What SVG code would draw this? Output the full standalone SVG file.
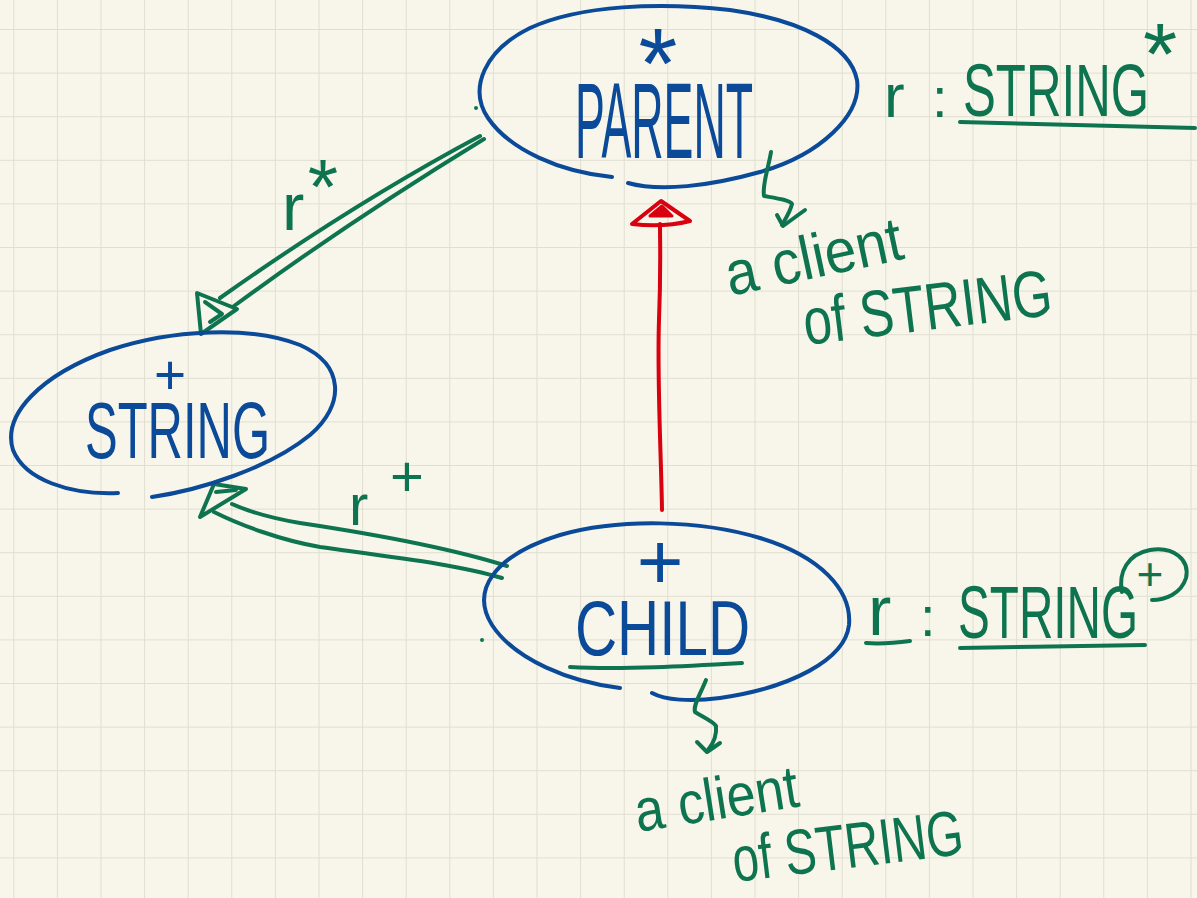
<svg xmlns="http://www.w3.org/2000/svg" width="1197" height="898" viewBox="0 0 1197 898">
  <defs>
    <pattern id="grid" x="13.3" y="29" width="43.6" height="43.6" patternUnits="userSpaceOnUse">
      <path d="M0,0 V43.6 M0,0 H43.6" fill="none" stroke="#dfded0" stroke-width="2"/>
    </pattern>
    <style>
      .ink { fill: none; stroke-width: 4; stroke-linecap: round; stroke-linejoin: round; }
      .blue { stroke: #0b4a98; }
      .green { stroke: #0e7450; }
      .red { stroke: #d9000f; }
      .txt { font-family: "Liberation Sans", Arial, sans-serif; }
      .tb { fill: #0b4a98; }
      .tg { fill: #0e7450; }
    </style>
  </defs>

  <!-- paper -->
  <rect width="1197" height="898" fill="#f8f6ea"/>
  <rect width="1197" height="898" fill="url(#grid)"/>

  <!-- connectors -->
  <g id="connectors">
    <!-- PARENT -> STRING, double shaft with open head -->
    <g id="edge-parent-string">
      <path class="ink green" d="M480,136 C420,168 330,220 220,298"/>
      <path class="ink green" d="M484,139 C430,172 340,228 234,306"/>
      <path class="ink green" d="M197,293 L237,309 L201,334 Z"/>
      <path class="ink green" d="M205,302 L222,314 L210,322"/>
    </g>
    <!-- CHILD -> STRING, double shaft with open head -->
    <g id="edge-child-string">
      <path class="ink green" d="M507,566 C450,548 380,535 300,523 C270,518 250,512 232,504"/>
      <path class="ink green" d="M502,578 C460,565 400,558 320,547 C280,540 240,525 214,512"/>
      <path class="ink green" d="M200,517 L214,484 L246,489 Z"/>
      <path class="ink green" d="M216,492 L236,490"/>
    </g>
    <!-- CHILD -> PARENT inheritance -->
    <g id="edge-child-parent">
      <path class="ink red" d="M662,510 C661,450 657,380 659,320 C661,270 660,245 660,224"/>
      <path class="ink red" d="M632,224 L661,201 L690,221 C670,226 650,226 632,224 Z"/>
      <path d="M650,216 L662,206 L672,216 Z" fill="#d9000f" stroke="#d9000f" stroke-width="3" stroke-linejoin="round"/>
    </g>
  </g>

  <!-- PARENT class -->
  <g id="node-parent">
    <path class="ink blue" d="M612,177 C560,172 510,150 488,118 C468,88 485,50 530,28 C580,5 660,2 730,10 C800,20 850,45 857,80 C862,115 820,155 760,172 C710,186 660,192 628,183"/>
    <circle cx="476" cy="108" r="2" fill="#0e7450"/>
    <text class="txt tb" x="658" y="98" font-size="100" text-anchor="middle">*</text>
    <text class="txt tb" x="575" y="158" font-size="108" textLength="178" lengthAdjust="spacingAndGlyphs">PARENT</text>
  </g>

  <!-- PARENT feature r : STRING* -->
  <g id="parent-feature">
    <text class="txt tg" x="884" y="117" font-size="62">r</text>
    <text class="txt tg" x="932" y="117" font-size="56">:</text>
    <text class="txt tg" x="963" y="116" font-size="74" textLength="186" lengthAdjust="spacingAndGlyphs">STRING</text>
    <text class="txt tg" x="1160" y="84" font-size="88" text-anchor="middle">*</text>
    <path class="ink green" d="M960,122 C1040,124 1120,126 1195,128"/>
  </g>

  <!-- PARENT note -->
  <g id="note-parent">
    <path class="ink green" d="M771,152 C768,170 762,185 764,196 C775,198 790,200 792,204 C790,212 786,218 782,225"/>
    <path class="ink green" d="M777,215 L783,226 L805,210"/>
    <text class="txt tg" transform="translate(730,296) rotate(-12)" font-size="62" textLength="180" lengthAdjust="spacingAndGlyphs">a client</text>
    <text class="txt tg" transform="translate(806,345) rotate(-7)" font-size="66" textLength="250" lengthAdjust="spacingAndGlyphs">of STRING</text>
  </g>

  <!-- STRING class -->
  <g id="node-string">
    <path class="ink blue" d="M118,493 C70,495 25,480 13,450 C2,415 40,375 110,350 C170,330 250,325 300,345 C345,365 345,405 310,435 C270,468 200,490 152,497"/>
    <text class="txt tb" x="170" y="394" font-size="55" text-anchor="middle">+</text>
    <text class="txt tb" x="85" y="458" font-size="80" textLength="185" lengthAdjust="spacingAndGlyphs">STRING</text>
  </g>

  <!-- edge labels -->
  <g id="labels">
    <text class="txt tg" x="282" y="230" font-size="67">r</text>
    <text class="txt tg" x="323" y="214" font-size="78" text-anchor="middle">*</text>
    <text class="txt tg" x="349" y="525" font-size="58">r</text>
    <text class="txt tg" x="407" y="496" font-size="58" text-anchor="middle">+</text>
  </g>

  <!-- CHILD class -->
  <g id="node-child">
    <path class="ink blue" d="M620,688 C570,682 515,660 492,625 C470,590 495,555 560,535 C620,518 700,520 760,538 C820,556 852,590 849,625 C845,660 790,688 720,698 C690,702 665,700 652,693"/>
    <circle cx="482" cy="640" r="2" fill="#0e7450"/>
    <text class="txt tb" x="660" y="589" font-size="80" text-anchor="middle">+</text>
    <text class="txt tb" x="575" y="655" font-size="78" textLength="175" lengthAdjust="spacingAndGlyphs">CHILD</text>
    <path class="ink green" d="M570,667 C620,670 690,666 742,663"/>
  </g>

  <!-- CHILD feature r : STRING(+) -->
  <g id="child-feature">
    <text class="txt tg" x="868" y="635" font-size="70">r</text>
    <path class="ink green" d="M866,643 C880,644 895,643 910,641"/>
    <text class="txt tg" x="920" y="636" font-size="56">:</text>
    <text class="txt tg" x="958" y="638" font-size="75" textLength="180" lengthAdjust="spacingAndGlyphs">STRING</text>
    <path class="ink green" d="M960,648 C1020,647 1090,646 1145,645"/>
    <text class="txt tg" x="1150" y="590" font-size="46" text-anchor="middle">+</text>
    <path class="ink green" d="M1122,592 C1118,572 1128,554 1150,550 C1174,546 1190,560 1186,578 C1181,594 1165,600 1152,600"/>
  </g>

  <!-- CHILD note -->
  <g id="note-child">
    <path class="ink green" d="M706,680 C700,695 693,705 695,712 C705,718 714,722 716,726 C717,736 712,745 708,750"/>
    <path class="ink green" d="M697,742 L707,752 L720,743"/>
    <text class="txt tg" transform="translate(638,832) rotate(-9)" font-size="60" textLength="165" lengthAdjust="spacingAndGlyphs">a client</text>
    <text class="txt tg" transform="translate(735,882) rotate(-7)" font-size="64" textLength="232" lengthAdjust="spacingAndGlyphs">of STRING</text>
  </g>
</svg>
